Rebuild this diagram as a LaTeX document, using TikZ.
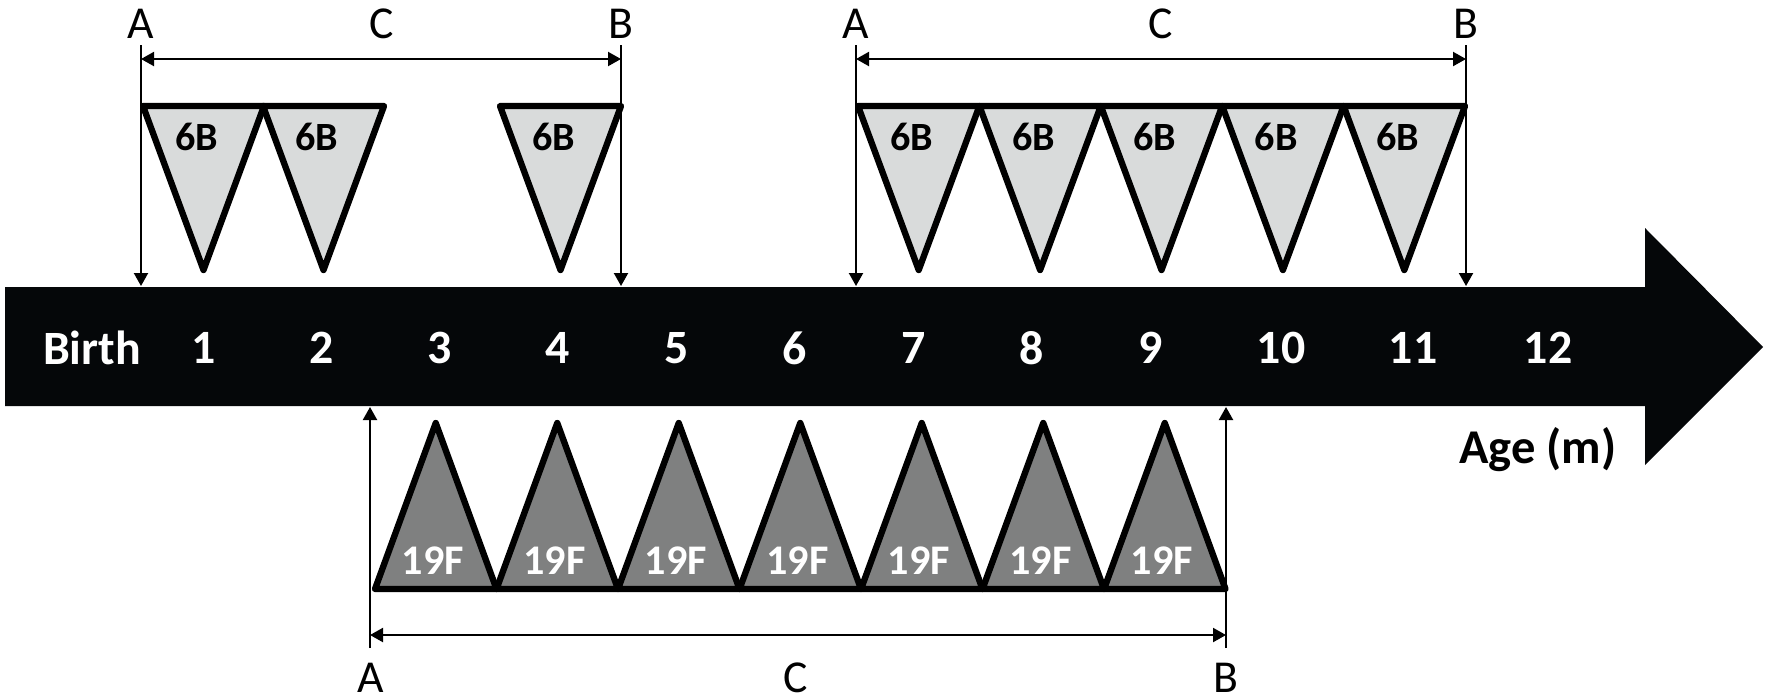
\documentclass[tikz,border=0pt]{standalone}
\usepackage{fontspec}
\setmainfont{Carlito}
\usetikzlibrary{arrows.meta}
\definecolor{flaglight}{HTML}{D9DBDB}
\definecolor{flagdark}{HTML}{7F8080}
\definecolor{barblack}{HTML}{050709}
\tikzset{
  flagB/.style={draw=black, line width=1.8pt, fill=flaglight, line join=round},
  flagF/.style={draw=black, line width=1.8pt, fill=flagdark, line join=round},
  dimline/.style={line width=0.6pt, -{Triangle[length=1.3mm,width=1.4mm]}},
  spanline/.style={line width=0.6pt, {Triangle[length=1.3mm,width=1.4mm]}-{Triangle[length=1.3mm,width=1.4mm]}},
  letterlbl/.style={font=\fontsize{13}{15}\selectfont, inner sep=0pt},
  month/.style={text=white, font=\bfseries\fontsize{13.6}{15}\selectfont, inner sep=0pt},
  flagtxt/.style={font=\bfseries\fontsize{11.4}{13}\selectfont, inner sep=0pt}
}
\begin{document}
\begin{tikzpicture}[x=0.01cm,y=-0.01cm]
\useasboundingbox (0,0) rectangle (1767,699);
% time bar
\fill[barblack] (5,287) -- (1645,287) -- (1645,228) -- (1763,347) -- (1645,465) -- (1645,406) -- (5,406) -- cycle;
\foreach \m/\x in {Birth/92,1/204,2/322,3/440,4/558,5/677,6/795,7/914,8/1032,9/1151,10/1281,11/1413,12/1548}
  \node[month] (m\m) at (\x,348) {\m};
\node[font=\bfseries\fontsize{13.8}{15}\selectfont, inner sep=0pt] (age) at (1538,450) {Age (m)};
% 6B, first year
\foreach \l [count=\i] in {143,263,500} {
  \draw[flagB] (\l,106) -- ++(121,0) -- ++(-60.5,164) -- cycle;
  \node[flagtxt] (b\i) at (\l+54,137) {6B};
}
\foreach \i in {0,...,4} {
  \draw[flagB] (858+121.4*\i,106) -- ++(121.4,0) -- ++(-60.7,164) -- cycle;
  \node[flagtxt] (c\i) at (858+121.4*\i+54,137) {6B};
}
% 19F
\foreach \i in {0,...,6} {
  \draw[flagF] (375+121.5*\i,589) -- ++(121.5,0) -- ++(-60.75,-166) -- cycle;
  \node[flagtxt, text=white, font=\bfseries\fontsize{12}{14}\selectfont] (f\i) at (375+121.5*\i+58,561) {19F};
}
% top left span
\node[letterlbl] (laA) at (141,24) {A};
\node[letterlbl] (laC) at (382,24) {C};
\node[letterlbl] (laB) at (621,24) {B};
\coordinate (laAt) at (141,45); \coordinate (laAb) at (141,286);
\coordinate (laBt) at (621,45); \coordinate (laBb) at (621,286);
\draw[dimline] (laAt) -- (laAb);
\draw[dimline] (laBt) -- (laBb);
\draw[spanline] (laAt |- 0,59) -- (laBt |- 0,59);
% top right span
\node[letterlbl] (lbA) at (856,24) {A};
\node[letterlbl] (lbC) at (1161,24) {C};
\node[letterlbl] (lbB) at (1466,24) {B};
\coordinate (lbAt) at (856,45); \coordinate (lbAb) at (856,286);
\coordinate (lbBt) at (1466,45); \coordinate (lbBb) at (1466,286);
\draw[dimline] (lbAt) -- (lbAb);
\draw[dimline] (lbBt) -- (lbBb);
\draw[spanline] (lbAt |- 0,59) -- (lbBt |- 0,59);
% bottom span
\node[letterlbl] (lcA) at (371,678) {A};
\node[letterlbl] (lcC) at (796,678) {C};
\node[letterlbl] (lcB) at (1226,678) {B};
\coordinate (lcAb) at (370,648); \coordinate (lcAt) at (370,407);
\coordinate (lcBb) at (1226,648); \coordinate (lcBt) at (1226,407);
\draw[dimline] (lcAb) -- (lcAt);
\draw[dimline] (lcBb) -- (lcBt);
\draw[spanline] (lcAb |- 0,635) -- (lcBb |- 0,635);
\end{tikzpicture}
\end{document}
